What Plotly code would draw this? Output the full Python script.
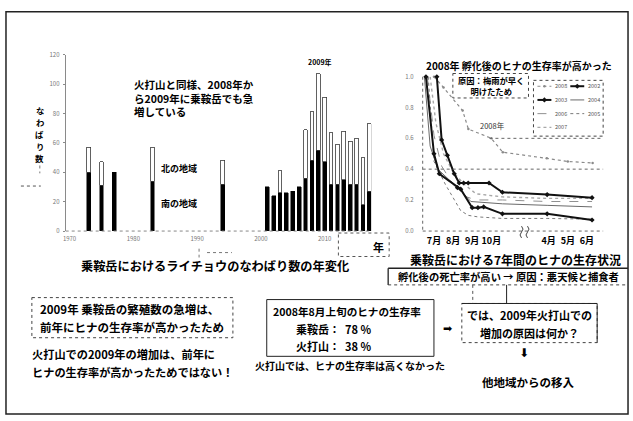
import plotly.graph_objects as go

W, H = 633, 421
FONT = "Noto Sans CJK JP"

# ---- Norikura: ptarmigan territories per survey year (south stacked under north)
survey_years = [1973, 1975, 1977, 1983, 1994,
                2001, 2002, 2003, 2004, 2005, 2006, 2007, 2008, 2009,
                2010, 2011, 2012, 2013, 2014, 2015, 2016, 2017]
south_counts = [40, 31, 40, 34, 32,
                30, 24, 26, 26, 27, 30, 36, 48, 55,
                47, 32, 32, 35, 32, 32, 18, 27]
north_counts = [17, 16, None, 23, 16,
                None, None, 15, None, None, None, 33, 33, 52,
                44, 35, 27, 33, 29, 31, 32, 46]
year_ticks = [1970, 1980, 1990, 2000, 2010]
count_ticks = [0, 20, 40, 60, 80, 100, 120]

# ---- Norikura: chick survival after hatching (month positions, winter gap compressed)
month_ticks = [1, 2, 3, 4, 7, 8, 9]
month_labels = ["7月", "8月", "9月", "10月", "4月", "5月", "6月"]
rate_ticks = [0.0, 0.2, 0.4, 0.6, 0.8, 1.0]

x_2002 = [0.58, 1.0, 1.28, 2.23, 2.4, 3.0, 3.3, 3.6, 4.58, 6.92, 9.27]
s_2002 = [1.0, 0.50, 0.37, 0.28, 0.27, 0.15, 0.15, 0.155, 0.11, 0.11, 0.07]
x_2003 = [1.15, 1.4, 1.7, 2.06, 2.32, 2.55, 2.79, 3.88, 4.58, 6.92, 9.27]
s_2003 = [1.0, 0.59, 0.49, 0.37, 0.31, 0.31, 0.31, 0.31, 0.25, 0.235, 0.215]
x_2004 = [0.5, 0.8, 1.2, 1.8, 2.4, 2.93, 4.58, 6.92, 9.27]
s_2004 = [1.0, 0.55, 0.40, 0.33, 0.26, 0.19, 0.175, 0.165, 0.155]
x_2005 = [0.7, 1.0, 1.6, 2.4, 2.8, 3.3, 4.58, 6.92, 9.27]
s_2005 = [1.0, 0.45, 0.30, 0.13, 0.10, 0.09, 0.08, 0.08, 0.075]
x_2006 = [0.65, 1.0, 1.4, 2.0, 2.7, 3.2, 4.58, 6.92, 9.27]
s_2006 = [1.0, 0.62, 0.42, 0.30, 0.22, 0.20, 0.20, 0.19, 0.19]
x_2007 = [0.8, 1.1, 1.5, 2.0, 2.6, 3.2, 4.58, 6.92, 9.27]
s_2007 = [1.0, 0.70, 0.50, 0.38, 0.30, 0.24, 0.22, 0.21, 0.21]
x_2008 = [1.0, 1.5, 2.5, 2.8, 4.0, 4.6, 6.9, 8.0, 9.3]
s_2008 = [1.0, 0.93, 0.78, 0.66, 0.60, 0.51, 0.47, 0.45, 0.44]

series = [
    ("2008", x_2008, s_2008, dict(color="#8a8a8a", width=1.2, dash="dot"), dict(size=2.5, symbol="circle", color="#8a8a8a")),
    ("2007", x_2007, s_2007, dict(color="#a8a8a8", width=1.4, dash="dot"), None),
    ("2006", x_2006, s_2006, dict(color="#909090", width=1.0, dash="dash"), None),
    ("2005", x_2005, s_2005, dict(color="#7a7a7a", width=1.0, dash="dot"), dict(size=2.5, symbol="x-thin", color="#7a7a7a")),
    ("2004", x_2004, s_2004, dict(color="#6a6a6a", width=1.0, dash="solid"), dict(size=2.5, symbol="x-thin", color="#6a6a6a")),
    ("2002", x_2002, s_2002, dict(color="#111111", width=2.0, dash="solid"), dict(size=4, symbol="diamond", color="#111111")),
    ("2003", x_2003, s_2003, dict(color="#111111", width=2.0, dash="solid"), dict(size=4, symbol="diamond", color="#111111")),
]
style_of = {lab: (ln, mk) for lab, _, _, ln, mk in series}

fig = go.Figure()

# stacked territory bars
fig.add_trace(go.Bar(x=survey_years, y=south_counts, name="南の地域", width=0.6,
                     marker=dict(color="black", line=dict(color="black", width=0.5)),
                     xaxis="x", yaxis="y"))
fig.add_trace(go.Bar(x=survey_years, y=north_counts, name="北の地域", width=0.6,
                     marker=dict(color="white", line=dict(color="#3a3a3a", width=0.8)),
                     xaxis="x", yaxis="y"))

# survival curves
for lab, xs, ys, ln, mk in series:
    fig.add_trace(go.Scatter(x=xs, y=ys, name=lab, mode="lines+markers" if mk else "lines",
                             line=ln, marker=mk if mk else None, cliponaxis=False,
                             xaxis="x2", yaxis="y2"))

# small legend of the survival chart, drawn on a pixel-unit overlay axis
legend_cols = [["2008", "2003", "2006", "2007"], ["2002", "2004", "2005"]]
legend_col_x = [537, 570]
legend_row_y = [83, 97, 111, 125]
for ci, col in enumerate(legend_cols):
    for ri, lab in enumerate(col):
        ln, mk = style_of[lab]
        x0 = legend_col_x[ci]
        yy = legend_row_y[ri]
        fig.add_trace(go.Scatter(x=[x0, x0 + 14], y=[yy, yy], mode="lines", line=ln,
                                 xaxis="x3", yaxis="y3", hoverinfo="skip"))
        if mk:
            fig.add_trace(go.Scatter(x=[x0 + 7], y=[yy], mode="markers", marker=mk,
                                     xaxis="x3", yaxis="y3", hoverinfo="skip"))

fig.update_layout(
    width=W, height=H, margin=dict(l=0, r=0, t=0, b=0),
    paper_bgcolor="white", plot_bgcolor="rgba(0,0,0,0)",
    barmode="stack", showlegend=False,
    font=dict(family=FONT, color="black"),
    xaxis=dict(domain=[63 / W, 370 / W], range=[1969.4, 2017.3],
               tickvals=year_ticks, ticktext=[str(y) for y in year_ticks],
               tickfont=dict(size=6, color="#777"), showgrid=False, zeroline=False,
               showline=False, ticks="", anchor="y", ticklabelstandoff=3),
    yaxis=dict(domain=[1 - 231 / H, 1 - 50.7 / H], range=[0, 120], tickvals=count_ticks,
               tickfont=dict(size=6, color="#777"), showgrid=False, zeroline=False,
               showline=True, linecolor="#8a8a8a", linewidth=1, ticks="outside",
               ticklen=2, tickcolor="#8a8a8a", anchor="x", ticklabelstandoff=2),
    xaxis2=dict(domain=[421.7 / W, 603 / W], range=[0.41, 9.85],
                tickvals=month_ticks, ticktext=[f"<b>{m}</b>" for m in month_labels],
                tickfont=dict(size=9, color="black"), showgrid=False, zeroline=False,
                showline=False, ticks="", anchor="y2", ticklabelstandoff=3),
    yaxis2=dict(domain=[1 - 230.7 / H, 1 - 73.3 / H], range=[0, 1.0],
                tickvals=rate_ticks, ticktext=[f"{t:.1f}" for t in rate_ticks],
                tickfont=dict(size=6, color="#777"), showgrid=False, zeroline=False,
                showline=False, ticks="", anchor="x2", ticklabelstandoff=8),
    xaxis3=dict(domain=[0, 1], range=[0, W], visible=False, anchor="y3"),
    yaxis3=dict(domain=[0, 1], range=[H, 0], visible=False, anchor="x3"),
)


def P(x, y):
    return x / W, 1 - y / H


def txt(x, y, s, size, bold=True, anchor="center", color="black", family=FONT, align="left"):
    px, py = P(x, y)
    return dict(x=px, y=py, xref="paper", yref="paper", showarrow=False,
                text=f"<b>{s}</b>" if bold else s, xanchor=anchor, yanchor="middle",
                align=align, font=dict(size=size, color=color, family=family), borderpad=0)


def seg(x0, y0, x1, y1, color="black", width=1, dash="solid"):
    a, b = P(x0, y0)
    c, d = P(x1, y1)
    return dict(type="line", xref="paper", yref="paper", x0=a, y0=b, x1=c, y1=d,
                line=dict(color=color, width=width, dash=dash), layer="above")


def box(x0, y0, x1, y1, color="black", width=1, dash="solid"):
    a, b = P(x0, y0)
    c, d = P(x1, y1)
    return dict(type="rect", xref="paper", yref="paper", x0=a, y0=b, x1=c, y1=d,
                line=dict(color=color, width=width, dash=dash), fillcolor="rgba(0,0,0,0)",
                layer="above")


ann = []
# bar chart texts
ann += [txt(131, 95, "火打山と同様、2008年か<br>ら2009年に乗鞍岳でも急<br>増している", 10.5, anchor="left"),
        txt(319, 58, "2009年", 7),
        txt(158, 166.7, "北の地域", 9, anchor="left"),
        txt(158, 202.7, "南の地域", 9, anchor="left"),
        txt(377, 247, "年", 11),
        txt(213, 267, "乗鞍岳におけるライチョウのなわばり数の年変化", 12.2)]
# vertical axis title, one character per step
for i, ch in enumerate("なわばり数"):
    ann.append(txt(37, 107 + 12.3 * i, ch, 8.4))

# survival chart texts
ann += [txt(518, 61.7, "2008年 孵化後のヒナの生存率が高かった", 10),
        txt(490, 82, "原因：梅雨が早く<br>明けたため", 8.3, align="center"),
        txt(491.7, 123.3, "2008年", 7.5, bold=False, color="#333"),
        txt(515, 260, "乗鞍岳における7年間のヒナの生存状況", 12),
        txt(508, 277.5, "孵化後の死亡率が高い → 原因：悪天候と捕食者", 10.3)]
for ci, col in enumerate(legend_cols):
    for ri, lab in enumerate(col):
        ann.append(txt(legend_col_x[ci] + 17, legend_row_y[ri], lab, 5.5, bold=False,
                       anchor="left", color="#555"))

# bottom statements
ann += [txt(36, 311, "2009年 乗鞍岳の繁殖数の急増は、", 11.5, anchor="left"),
        txt(36, 329, "前年にヒナの生存率が高かったため", 11.5, anchor="left"),
        txt(28, 357, "火打山での2009年の増加は、前年に", 11.2, anchor="left"),
        txt(28, 375, "ヒナの生存率が高かったためではない！", 11.2, anchor="left"),
        txt(270, 313, "2008年8月上旬のヒナの生存率", 10.6, anchor="left"),
        txt(293, 331, "乗鞍岳：  78 %", 11, anchor="left"),
        txt(293, 348, "火打山：  38 %", 11, anchor="left"),
        txt(349, 368, "火打山では、ヒナの生存率は高くなかった", 10),
        txt(447, 331, "➡", 11, bold=False, family="DejaVu Sans"),
        txt(529, 317, "では、2009年火打山での", 11),
        txt(529, 335, "増加の原因は何か？", 11),
        txt(523, 356, "⬇", 12, bold=False, family="DejaVu Sans"),
        txt(527, 385, "他地域からの移入", 11.5)]

shp = []
shp.append(box(3, 7, 628, 418, color="#222", width=1.5))
# bar chart baseline and small leftovers
shp.append(seg(63, 231, 370, 231, color="#888", width=1, dash="dot"))
shp.append(box(337, 233, 388, 257, color="#555", width=1, dash="dot"))
shp.append(seg(37, 164, 37, 172, color="#777", width=1, dash="dot"))
shp.append(seg(18, 185, 38, 185, color="#555", width=1, dash="dot"))
shp.append(seg(197, 249, 197, 258, color="#777", width=1, dash="dot"))
shp.append(seg(205, 253, 230, 253, color="#777", width=1, dash="dot"))
# survival chart frame, highlights and winter break
shp.append(seg(421.7, 73.3, 421.7, 231, color="#666", width=1, dash="dot"))
shp.append(seg(421.7, 231, 603, 231, color="#666", width=1, dash="dot"))
shp.append(dict(type="line", xref="x2 domain", yref="y2", x0=0, x1=1, y0=0.4, y1=0.4,
                line=dict(color="#666", width=1, dash="dot")))
shp.append(dict(type="line", xref="x2", yref="y2", x0=3.9, x1=9.85, y0=0.6, y1=0.6,
                line=dict(color="#666", width=1, dash="dot")))
for bx in (521, 527):
    pts = [P(bx, 226), P(bx + 3, 229), P(bx, 232), P(bx - 3, 235), P(bx, 238)]
    path = (f"M {pts[0][0]},{pts[0][1]} Q {pts[1][0]},{pts[1][1]} {pts[2][0]},{pts[2][1]} "
            f"Q {pts[3][0]},{pts[3][1]} {pts[4][0]},{pts[4][1]}")
    shp.append(dict(type="path", xref="paper", yref="paper", path=path,
                    line=dict(color="#444", width=1)))
shp.append(box(452, 70, 528, 95, color="#444", width=1, dash="dot"))
shp.append(box(533, 77, 603, 134, color="#444", width=1, dash="dot"))
# cause box under the survival chart
shp.append(seg(387, 269, 628, 269, color="#222", width=1.3))
shp.append(seg(387, 269, 387, 286, color="#222", width=1.3))
shp.append(seg(387, 286, 628, 286, color="#444", width=1, dash="dot"))
shp.append(seg(506, 286, 506, 305, color="#222", width=1))
shp.append(seg(472, 286, 472, 305, color="#555", width=1, dash="dot"))
# bottom boxes
shp.append(box(29, 299, 231, 340, color="#444", width=1, dash="dot"))
shp.append(box(265, 301, 433, 359, color="#222", width=1))
shp.append(box(461, 305, 597, 345, color="#444", width=1, dash="dot"))
shp.append(seg(461, 305, 597, 305, color="#222", width=1))
shp.append(seg(597, 305, 597, 345, color="#222", width=1))

fig.update_layout(annotations=ann, shapes=shp)
fig.write_html("out.html")
